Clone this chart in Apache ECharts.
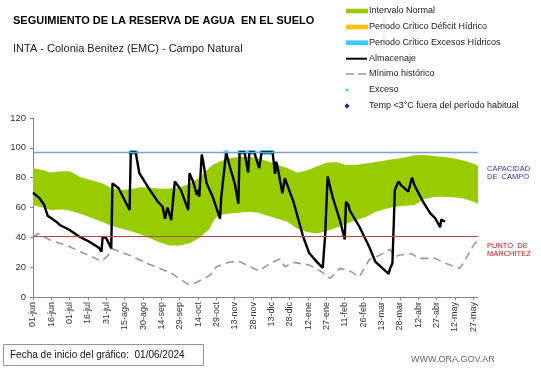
<!DOCTYPE html>
<html>
<head>
<meta charset="utf-8">
<script src="https://cdn.jsdelivr.net/npm/echarts@6/dist/echarts.min.js"></script>
<style>
html,body{margin:0;padding:0;background:#fff;}
#chart{width:541px;height:368px;}
</style>
</head>
<body>
<div id="chart"></div>
<script>
// ---- Data (day index from 01-jun-2024) ----
const xTickLabels = ['01-jun','16-jun','01-jul','16-jul','31-jul','15-ago','30-ago','14-sep','29-sep','14-oct','29-oct','13-nov','28-nov','13-dic','28-dic','12-ene','27-ene','11-feb','26-feb','13-mar','28-mar','12-abr','27-abr','12-may','27-may'];
const yTicks = [0,20,40,60,80,100,120];

const capacidadCampo = 97;
const puntoMarchitez = 41;

const bandDays = [0,8,14,24,30,40,48,56,64,72,80,88,96,104,112,120,128,136,144,148,152,160,168,176,184,192,200,208,216,224,232,240,248,256,264,272,280,288,296,304,312,320,328,336,344,352,360,364];
const bandLow  = [61.7,60,58.3,58.6,58,55.5,53,50.5,48,46,44,42,39.2,36.6,34.5,34.5,36,39.5,45.5,51.5,55,55.8,56.5,57.2,56.5,54.5,52.5,50.5,46,43.5,42.5,44,46.5,49,51.5,53.5,57,59,60.5,61.2,61.7,65.5,67,67.2,66.8,66,64,62.5];
const bandHigh = [86.3,85.2,83.5,84.3,84.3,80,78.2,76.5,73,71.8,72.3,73.5,73.2,72.5,72.7,73.5,76,80,86.5,89,90.5,93,93.8,94,93,91,88.5,86.5,83.5,84.8,87.5,90,90.5,88.5,88.5,89.5,90.5,91.5,92.5,93.5,95,95.2,94.5,93.8,93,91.5,89.5,88];

const almDays = [0,5,9,12,15,19,22,30,38,46,54,56,57,60,64,65,70,79,80,84,87,95,102,106,108,110,113,116,117,121,127,128,131,134,135,136,138,139,142,143,147,153,154,158,161,165,168,169,173,176,177,181,185,187,196,198,199,200,204,206,213,221,226,232,237,239,240,241,245,251,255,256,258,259,260,267,275,280,286,291,292,294,296,299,301,304,307,310,312,319,325,329,333,334,337];
const almVals = [70,66.5,62,54.5,52.8,50.5,48.3,44.9,40.4,37.1,33,30.4,40.4,39.3,32.6,76.2,72.9,58.3,97,97,83,72.5,64,60.5,52.5,60,51.5,77.5,78.4,71.7,58.3,82.9,77.3,68.4,71.7,67.2,95.5,91.8,76.2,75,67.2,52.5,67.2,97,87.3,76.2,62.5,97,97,83.5,97,97,86.3,97,97,82.5,90.7,87.3,69.5,79.6,63.9,40.4,29.3,23.7,19.5,41.6,42.7,80.7,67.2,51.6,38.5,63.9,61.7,58.3,59.5,47.1,33.7,23.7,19.2,15.5,19,22.6,71.7,77.5,75,72.9,70.6,80,75,63.9,56.1,52.8,46.8,52,50.5];

const minDays = [0,4,14,30,44,56,61,65,79,95,112,127,132,145,150,161,169,177,185,194,202,206,213,226,235,243,251,259,267,275,284,292,296,300,310,315,329,337,349,353,357,361,364];
const minVals = [40,42.5,38.2,33.7,28.5,24,27.5,32.3,28,22,16.5,8.5,9,14.7,20.3,23.5,23.7,20.5,17.5,22.6,25.5,20.3,23.2,21.5,17.5,12.5,19.2,17.5,13.6,25,28.2,32,27,28.2,29,25.9,25.9,22.6,19.2,24,30,35.5,38];

const excesoDays = [80,81,82,83,84,158,169,170,171,172,173,177,178,179,180,181,187,188,189,190,191,192,193,194,195,196];
const excesoVals = [97,97,97,97,97,97,97,97,97,97,97,97,97,97,97,97,97,97,97,97,97,97,97,97,97,97];

// ---- Build ----
const FONT = '"Liberation Sans", Arial, sans-serif';
const pairs = (xs, ys) => xs.map((x, i) => [x, ys[i]]);
const tickValues = xTickLabels.map((_, i) => i * 15);

const legendRows = [
  {name: 'Intervalo Normal', y: 11, kind: 'rect', color: '#99cc00'},
  {name: 'Periodo Crítico Déficit Hídrico', y: 27, kind: 'rect', color: '#ffc000'},
  {name: 'Periodo Crítico Excesos Hídricos', y: 42.7, kind: 'rect', color: '#33ccff'},
  {name: 'Almacenaje', y: 58.7, kind: 'line', color: '#000'},
  {name: 'Mínimo histórico', y: 74, kind: 'dash', color: '#999'},
  {name: 'Exceso', y: 90, kind: 'dot', color: '#33ccff'},
  {name: 'Temp <3°C fuera del período habitual', y: 106, kind: 'diamond', color: '#1f2a9c'}
];
const graphics = [];
legendRows.forEach(r => {
  if (r.kind === 'rect') graphics.push({type:'rect', shape:{x:346, y:r.y-2.3, width:22, height:4.6}, style:{fill:r.color}});
  if (r.kind === 'line') graphics.push({type:'line', shape:{x1:346, y1:r.y, x2:367, y2:r.y}, style:{stroke:r.color, lineWidth:2}});
  if (r.kind === 'dash') graphics.push({type:'line', shape:{x1:346, y1:r.y, x2:367, y2:r.y}, style:{stroke:r.color, lineWidth:1.5, lineDash:[8,4]}});
  if (r.kind === 'dot') graphics.push({type:'rect', shape:{x:345.8, y:r.y-1.2, width:2.4, height:2.4}, style:{fill:r.color}});
  if (r.kind === 'diamond') graphics.push({type:'polygon', shape:{points:[[347,r.y-2.8],[349.6,r.y],[347,r.y+2.8],[344.4,r.y]]}, style:{fill:r.color}});
  graphics.push({type:'text', x:369, y:r.y, style:{text:r.name, font:'9px ' + FONT, fill:'#222', verticalAlign:'middle'}});
});
graphics.push({type:'text', x:487, y:165, style:{text:'CAPACIDAD\nDE  CAMPO', font:'7.5px ' + FONT, lineHeight:8, fill:'#3535a8'}});
graphics.push({type:'text', x:487, y:242, style:{text:'PUNTO  DE\nMARCHITEZ', font:'7.5px ' + FONT, lineHeight:8, fill:'#c01818'}});
graphics.push({type:'rect', shape:{x:3.5, y:344.5, width:200, height:21}, style:{fill:'#fff', stroke:'#a89090', lineWidth:1}});
graphics.push({type:'text', x:10, y:355.5, style:{text:'Fecha de inicio del gráfico:  01/06/2024', font:'10px ' + FONT, fill:'#111', verticalAlign:'middle'}});
graphics.push({type:'text', x:411, y:360, style:{text:'WWW.ORA.GOV.AR', font:'9px ' + FONT, fill:'#666', verticalAlign:'middle'}});

const chart = echarts.init(document.getElementById('chart'), null, {renderer:'canvas'});
chart.setOption({
  animation: false,
  backgroundColor: '#fff',
  title: {
    text: 'SEGUIMIENTO DE LA RESERVA DE AGUA  EN EL SUELO',
    subtext: 'INTA - Colonia Benitez (EMC) - Campo Natural',
    left: 8, top: 9, itemGap: 15.5,
    textStyle: {fontFamily: FONT, fontSize: 11, fontWeight: 'bold', color: '#000', lineHeight: 13},
    subtextStyle: {fontFamily: FONT, fontSize: 11, color: '#222', lineHeight: 13}
  },
  grid: {left: 33, right: 63, top: 118, bottom: 71, containLabel: false, outerBoundsMode: 'none'},
  xAxis: {
    type: 'value', min: 0, max: 364, interval: 15,
    splitLine: {show: false},
    axisLine: {lineStyle: {color: '#868686', width: 1}},
    axisTick: {show: true, length: 3, lineStyle: {color: '#868686'}, customValues: tickValues},
    axisLabel: {
      rotate: 90, fontSize: 9, fontFamily: FONT, color: '#333', margin: 5,
      customValues: tickValues,
      formatter: v => xTickLabels[Math.round(v / 15)] || ''
    }
  },
  yAxis: {
    type: 'value', min: 0, max: 120, interval: 20,
    name: 'Milímetros', nameLocation: 'middle', nameGap: 26, nameRotate: 90,
    nameTextStyle: {fontSize: 7, fontFamily: FONT, color: '#222'},
    splitLine: {show: false},
    axisLine: {show: true, lineStyle: {color: '#868686', width: 1}},
    axisTick: {show: true, length: 3, lineStyle: {color: '#868686'}},
    axisLabel: {fontSize: 9.5, fontFamily: FONT, color: '#333', margin: 7}
  },
  graphic: graphics,
  series: [
    {
      name: 'Intervalo Normal', type: 'custom', silent: true,
      data: [[0, 0]],
      renderItem: (params, api) => {
        const top = bandDays.map((d, i) => api.coord([d, bandHigh[i]]));
        const bottom = bandDays.map((d, i) => api.coord([d, bandLow[i]])).reverse();
        return {type: 'polygon', shape: {points: top.concat(bottom)}, style: {fill: '#99cc00'}};
      }
    },
    {
      name: 'Mínimo histórico', type: 'line', symbol: 'none',
      data: pairs(minDays, minVals),
      lineStyle: {color: '#9a9a9a', width: 1.6, type: [8, 5]},
      markLine: {
        silent: true, symbol: 'none', label: {show: false},
        data: [
          {yAxis: capacidadCampo, lineStyle: {color: '#7f9dcf', width: 1.3, type: 'solid'}},
          {yAxis: puntoMarchitez, lineStyle: {color: '#b5494a', width: 1.2, type: 'solid'}}
        ]
      }
    },
    {
      name: 'Almacenaje', type: 'line', symbol: 'none',
      data: pairs(almDays, almVals),
      lineStyle: {color: '#000', width: 2.4}
    },
    {
      name: 'Exceso', type: 'scatter', symbol: 'rect', symbolSize: [5, 4],
      data: pairs(excesoDays, excesoVals),
      itemStyle: {color: '#33ccff'}
    }
  ]
});
</script>
</body>
</html>
